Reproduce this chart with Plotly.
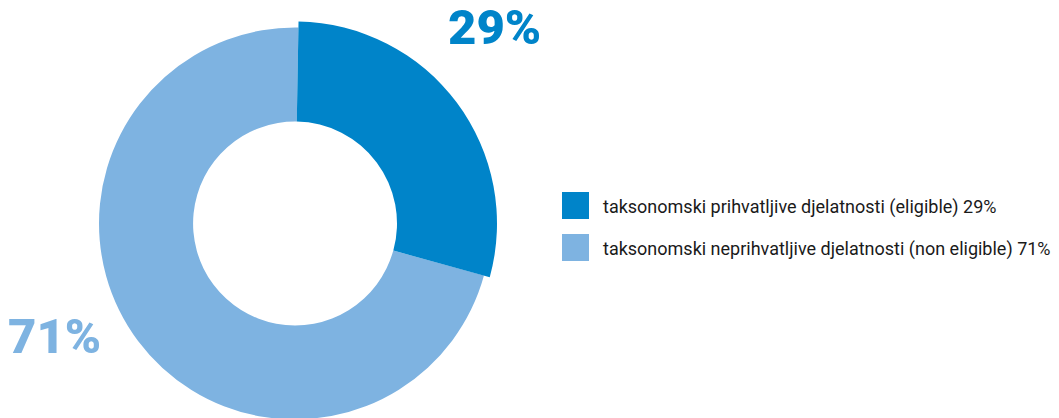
import plotly.graph_objects as go

labels = ["taksonomski prihvatljive djelatnosti (eligible)",
          "taksonomski neprihvatljive djelatnosti (non eligible)"]
values = [29, 71]
colors = ["#0084C9", "#7EB3E1"]
clear = "rgba(0,0,0,0)"

W, H = 1059, 418
off = 8   # page body margin, plot div sits 8px in from the window corner
cx, cy = 295 - off, 223 - off   # pie centre in figure px
r_light, r_dark = 196, 202
top = cy - r_dark

def px_x(x):
    return (x - off) / W

def px_y(y):
    return (H - (y - off)) / (H - top)

fig = go.Figure()

# light ring (eligible slot left empty, the bigger dark slice sits on top)
fig.add_trace(go.Pie(
    labels=labels, values=values, sort=False, direction="clockwise", rotation=1,
    hole=0.52, textinfo="none", showlegend=False,
    marker=dict(colors=[clear, colors[1]]),
    domain=dict(x=[(cx - r_light) / W, (cx + r_light) / W], y=[0, 1]),
))

# dark slice, drawn a bit larger than the ring
fig.add_trace(go.Pie(
    labels=labels, values=values, sort=False, direction="clockwise", rotation=1,
    hole=102 / r_dark, textinfo="none", showlegend=False,
    marker=dict(colors=[colors[0], clear]),
    domain=dict(x=[(cx - r_dark) / W, (cx + r_dark) / W], y=[0, 1]),
))

# big percentage labels (positions in window px)
pct_pos = [(494, 28), (54, 336)]
for v, c, (x, y) in zip(values, colors, pct_pos):
    fig.add_annotation(
        text=f"{v}%", x=px_x(x), y=px_y(y), xref="paper", yref="paper",
        showarrow=False, xanchor="center", yanchor="middle",
        font=dict(family="Roboto", size=49, color=c, weight=900),
    )

# legend with big square swatches
leg_x, leg_y, row, sw = 562, 192, 42, 27
for i, (lab, v, c) in enumerate(zip(labels, values, colors)):
    y0 = leg_y + i * row
    fig.add_shape(
        type="rect", xref="paper", yref="paper",
        x0=px_x(leg_x), x1=px_x(leg_x + sw), y0=px_y(y0 + sw), y1=px_y(y0),
        fillcolor=c, line=dict(width=0),
    )
    fig.add_annotation(
        text=f"{lab} {v}%", x=px_x(leg_x + 39), y=px_y(y0 + sw / 2 + 1),
        xref="paper", yref="paper", showarrow=False,
        xanchor="left", yanchor="middle",
        font=dict(family="Roboto", size=18, color="#1a1a1a"),
    )

fig.update_layout(
    width=W, height=H,
    margin=dict(l=0, r=0, t=top, b=0),
    paper_bgcolor="white", plot_bgcolor="white",
    showlegend=False,
)

fig.write_html("out.html")
